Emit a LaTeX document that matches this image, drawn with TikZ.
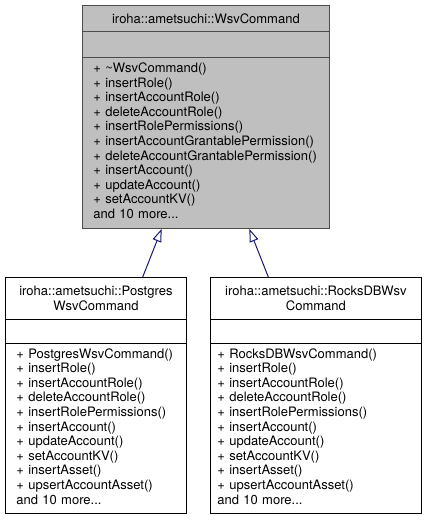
\documentclass[tikz,border=0pt]{standalone}
\usepackage{fontspec}
\setmainfont{TeX Gyre Heros}
\usetikzlibrary{arrows.meta}
\definecolor{midnight}{HTML}{191970}

\begin{document}
\begin{tikzpicture}[x=1pt, y=-1pt,
    font=\fontsize{13pt}{14.6pt}\selectfont,
    cls/.style={draw=black, fill=white, line width=0.8pt, anchor=north west, inner sep=0pt},
    focus/.style={cls, draw=black!70, fill=black!25},
    headbox/.style={minimum width=#1, align=center},
    members/.style={text width=#1, inner xsep=11pt, align=left},
    isa/.style={draw=midnight, line width=1pt, -{Triangle[open, length=13pt, width=9pt]}}]
  \useasboundingbox (0,0) rectangle (427,521);

  % base class (top)
  \node[focus, headbox=247pt, minimum height=26pt] (wsvtitle) at (82,5) {iroha::ametsuchi::WsvCommand};
  \node[focus, minimum width=247pt, minimum height=26pt] (wsvattr) at (82,31) {};
  \node[focus, members=225pt, minimum height=171pt] (wsvmeth) at (82,57)
    {+ \textasciitilde WsvCommand()\\+ insertRole()\\+ insertAccountRole()\\+ deleteAccountRole()\\
     + insertRolePermissions()\\+ insertAccountGrantablePermission()\\+ deleteAccountGrantablePermission()\\
     + insertAccount()\\+ updateAccount()\\+ setAccountKV()\\and 10 more...\strut};

  % derived class (left)
  \node[cls, headbox=181pt, minimum height=42pt] (pgtitle) at (5,277) {iroha::ametsuchi::Postgres\\WsvCommand};
  \node[cls, minimum width=181pt, minimum height=24pt] (pgattr) at (5,319) {};
  \node[cls, members=159pt, minimum height=170pt] (pgmeth) at (5,343)
    {+ PostgresWsvCommand()\\+ insertRole()\\+ insertAccountRole()\\+ deleteAccountRole()\\
     + insertRolePermissions()\\+ insertAccount()\\+ updateAccount()\\+ setAccountKV()\\
     + insertAsset()\\+ upsertAccountAsset()\\and 10 more...\strut};

  % derived class (right)
  \node[cls, headbox=211pt, minimum height=42pt] (rdbtitle) at (210,277) {iroha::ametsuchi::RocksDBWsv\\Command};
  \node[cls, minimum width=211pt, minimum height=24pt] (rdbattr) at (210,319) {};
  \node[cls, members=197pt, inner xsep=7pt, minimum height=170pt] (rdbmeth) at (210,343)
    {+ RocksDBWsvCommand()\\+ insertRole()\\+ insertAccountRole()\\+ deleteAccountRole()\\
     + insertRolePermissions()\\+ insertAccount()\\+ updateAccount()\\+ setAccountKV()\\
     + insertAsset()\\+ upsertAccountAsset()\\and 10 more...\strut};

  % inheritance
  \draw[isa] (142.7,0 |- pgtitle.north) -- (161.7,0 |- wsvmeth.south);
  \draw[isa] (268.3,0 |- rdbtitle.north) -- (249.3,0 |- wsvmeth.south);

\end{tikzpicture}
\end{document}
